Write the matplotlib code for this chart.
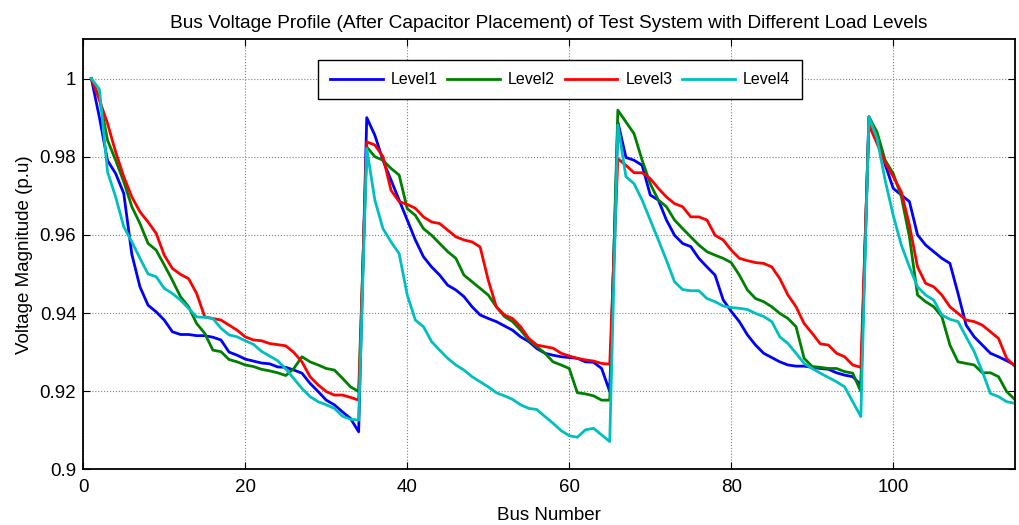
import matplotlib
matplotlib.use('Agg')
import matplotlib.pyplot as plt
from matplotlib.ticker import FormatStrFormatter
import numpy as np

plt.rcParams['font.family'] = ['Liberation Sans', 'DejaVu Sans']

# Bus numbers 1..115
bus = np.arange(1, 116)

# Voltage magnitudes (p.u)
level1 = [
    1.0, 0.990, 0.979, 0.9757, 0.9706, 0.955, 0.9467, 0.942, 0.9403, 0.9382,
    0.9352, 0.9345, 0.9345, 0.9342, 0.9342, 0.9338, 0.9331, 0.930, 0.9292, 0.9282,
    0.9277, 0.9272, 0.927, 0.9262, 0.9261, 0.9254, 0.9246, 0.922, 0.9199, 0.9177,
    0.9165, 0.9147, 0.913, 0.9096,
    0.990, 0.9855, 0.9791, 0.974, 0.9689, 0.9638, 0.9587, 0.9544, 0.9518, 0.9497,
    0.9471, 0.9459, 0.9442, 0.9416, 0.9395, 0.9386, 0.9378, 0.9367, 0.9356, 0.9339,
    0.9327, 0.9309, 0.9297, 0.9292, 0.9288, 0.9286, 0.9284, 0.9275, 0.9274, 0.9258,
    0.9199,
    0.9889, 0.9798, 0.9791, 0.9778, 0.9702, 0.9689, 0.9638, 0.9599, 0.9578, 0.957,
    0.954, 0.9518, 0.9497, 0.9434, 0.9404, 0.9378, 0.9344, 0.9318, 0.9297, 0.9286,
    0.9275, 0.9267, 0.9264, 0.9264, 0.9261, 0.9258, 0.9256, 0.9247, 0.9241, 0.9237,
    0.9216,
    0.9902, 0.985, 0.978, 0.9719, 0.9702, 0.9685, 0.960, 0.9574, 0.9557, 0.954,
    0.9527, 0.945, 0.9369, 0.9339, 0.9318, 0.9297, 0.9288, 0.9278, 0.9267,
]
level2 = [
    1.0, 0.995, 0.9842, 0.9791, 0.9736, 0.9672, 0.9629, 0.9578, 0.9561, 0.9523,
    0.9484, 0.9442, 0.9416, 0.9373, 0.9348, 0.9305, 0.9301, 0.9281, 0.9275, 0.9267,
    0.9263, 0.9256, 0.9252, 0.9247, 0.924, 0.9258, 0.9288, 0.9275, 0.9267, 0.9258,
    0.9254, 0.9233, 0.9211, 0.9199,
    0.9825, 0.980, 0.9791, 0.977, 0.9753, 0.9667, 0.965, 0.9616, 0.9599, 0.9578,
    0.9557, 0.954, 0.9497, 0.948, 0.9463, 0.9446, 0.9416, 0.9391, 0.9378, 0.9356,
    0.9331, 0.9314, 0.9297, 0.9275, 0.9267, 0.9258, 0.9196, 0.9193, 0.9188, 0.9177,
    0.9177,
    0.9919, 0.9889, 0.9859, 0.9791, 0.9731, 0.9689, 0.9672, 0.9638, 0.9616, 0.9595,
    0.9574, 0.9557, 0.9548, 0.954, 0.9529, 0.9497, 0.9459, 0.9437, 0.9429, 0.9416,
    0.9399, 0.9386, 0.9365, 0.9284, 0.9263, 0.9261, 0.9258, 0.9258, 0.925, 0.9246,
    0.9199,
    0.9902, 0.9863, 0.9791, 0.9757, 0.9698, 0.9595, 0.9446, 0.9429, 0.9416, 0.9391,
    0.9318, 0.9275, 0.9271, 0.9267, 0.9247, 0.9247, 0.9237, 0.9199, 0.9179,
]
level3 = [
    1.0, 0.9945, 0.9885, 0.9812, 0.9749, 0.9697, 0.9659, 0.9633, 0.9604, 0.9548,
    0.9514, 0.9499, 0.9488, 0.945, 0.939, 0.9386, 0.9382, 0.9369, 0.9356, 0.9339,
    0.9331, 0.9329, 0.9322, 0.9319, 0.9316, 0.9299, 0.9275, 0.9237, 0.9216, 0.9199,
    0.919, 0.919, 0.9184, 0.9177,
    0.9838, 0.983, 0.980, 0.9714, 0.9685, 0.9678, 0.9668, 0.9646, 0.9633, 0.9629,
    0.9612, 0.9595, 0.9587, 0.9582, 0.9569, 0.9484, 0.9416, 0.9395, 0.9386, 0.9365,
    0.9335, 0.9318, 0.9314, 0.931, 0.9297, 0.929, 0.9284, 0.928, 0.9277, 0.9271,
    0.9269,
    0.9795, 0.9778, 0.9759, 0.9759, 0.9744, 0.9719, 0.9697, 0.968, 0.9672, 0.9646,
    0.9646, 0.9638, 0.9599, 0.9587, 0.9561, 0.954, 0.9534, 0.9529, 0.9527, 0.9518,
    0.9488, 0.9446, 0.9416, 0.9373, 0.9348, 0.9321, 0.9318, 0.9297, 0.9288, 0.9267,
    0.9261,
    0.9881, 0.9834, 0.9785, 0.9749, 0.971, 0.9625, 0.9518, 0.9476, 0.9467, 0.9446,
    0.9416, 0.9399, 0.9382, 0.9378, 0.9369, 0.9352, 0.9335, 0.9284, 0.9264,
]
level4 = [
    1.0, 0.9972, 0.9761, 0.9697, 0.9621, 0.9582, 0.954, 0.950, 0.9493, 0.9463,
    0.945, 0.9433, 0.9412, 0.939, 0.9389, 0.9386, 0.9361, 0.9344, 0.9339, 0.9329,
    0.932, 0.9302, 0.929, 0.9278, 0.9257, 0.9232, 0.9207, 0.9186, 0.9173, 0.9165,
    0.9156, 0.9136, 0.9128, 0.9126,
    0.9821, 0.9689, 0.9616, 0.9582, 0.9552, 0.9446, 0.9382, 0.9365, 0.9327, 0.9305,
    0.9284, 0.9267, 0.9254, 0.9237, 0.9224, 0.9211, 0.9196, 0.9188, 0.9179, 0.9165,
    0.9156, 0.9153, 0.9135, 0.9118, 0.9099, 0.9086, 0.9082, 0.9101, 0.9105, 0.9088,
    0.9071,
    0.9881, 0.9749, 0.9731, 0.9689, 0.9638, 0.9587, 0.9535, 0.948, 0.946, 0.9457,
    0.9457, 0.9437, 0.9429, 0.9418, 0.9414, 0.9412, 0.9409, 0.9399, 0.9391, 0.9378,
    0.9339, 0.9322, 0.9297, 0.9271, 0.9258, 0.9246, 0.9235, 0.9224, 0.9211, 0.9173,
    0.9135,
    0.9902, 0.9847, 0.974, 0.965, 0.9574, 0.9518, 0.9467, 0.9446, 0.9433, 0.9395,
    0.9384, 0.9378, 0.9339, 0.9301, 0.925, 0.9194, 0.9186, 0.9173, 0.9169,
]

series = [level1, level2, level3, level4]
names = ['Level1', 'Level2', 'Level3', 'Level4']
colors = ['#0000ff', '#008000', '#ff0000', '#00bfbf']

fig = plt.figure(figsize=(10.19, 5.25), dpi=100)
ax = fig.add_axes([0.0817, 0.1061, 0.9141, 0.8187])

for vals, name, col in zip(series, names, colors):
    ax.plot(bus, vals, color=col, lw=2.0, label=name)

ax.set_xlim(0, 115)
ax.set_ylim(0.9, 1.01)
ax.set_xticks([0, 20, 40, 60, 80, 100])
ax.set_yticks([0.9, 0.92, 0.94, 0.96, 0.98, 1.0])
ax.yaxis.set_major_formatter(FormatStrFormatter('%g'))
ax.tick_params(direction='in', top=True, right=True, length=5, width=0.8,
               labelsize=13.5)
ax.tick_params(axis='x', pad=7)
ax.tick_params(axis='y', pad=5)
ax.grid(True, color='#808080', linestyle=':', linewidth=0.8)
for s in ax.spines.values():
    s.set_linewidth(1.3)

ax.set_title('Bus Voltage Profile (After Capacitor Placement) of Test System with Different Load Levels',
             fontsize=13.8, pad=8)
ax.set_xlabel('Bus Number', fontsize=13.5, labelpad=8)
ax.set_ylabel('Voltage Magnitude (p.u)', fontsize=13.5, labelpad=5)

leg = ax.legend(loc='upper center', bbox_to_anchor=(0.5118, 0.952), ncol=4,
                fontsize=11.5, handlelength=3.3, columnspacing=0.6,
                handletextpad=0.5, fancybox=False, framealpha=1,
                borderpad=0.75, borderaxespad=0, edgecolor='black')
leg.get_frame().set_linewidth(1.0)

plt.savefig('out.png', dpi=100)
plt.close()
